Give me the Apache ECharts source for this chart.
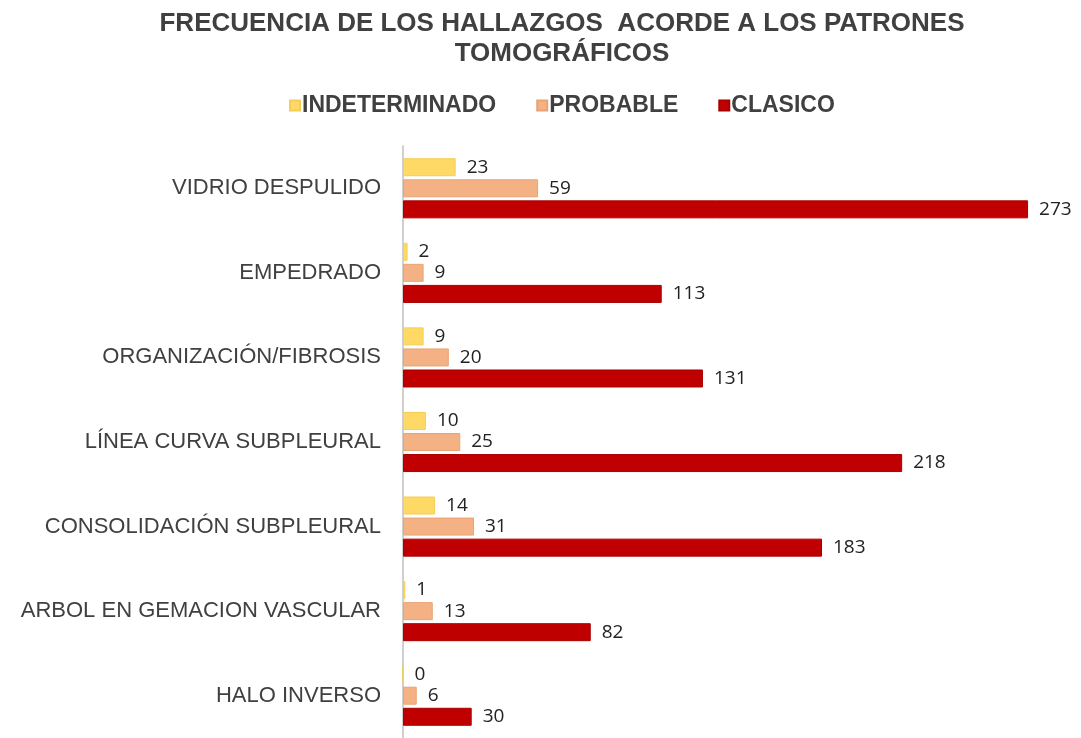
<!DOCTYPE html>
<html>
<head>
<meta charset="utf-8">
<script src="https://cdn.jsdelivr.net/npm/echarts@6/dist/echarts.min.js"></script>
<style>
  html, body { margin: 0; padding: 0; background: #fff; }
  #chart { width: 1081px; height: 738px; }
</style>
</head>
<body>
<div id="chart"></div>
<script>
// categorias de arriba hacia abajo
var categorias = ['VIDRIO DESPULIDO', 'EMPEDRADO', 'ORGANIZACIÓN/FIBROSIS', 'LÍNEA CURVA SUBPLEURAL',
  'CONSOLIDACIÓN SUBPLEURAL', 'ARBOL EN GEMACION VASCULAR', 'HALO INVERSO'];
var indeterminado = [23, 2, 9, 10, 14, 1, 0];
var probable = [59, 9, 20, 25, 31, 13, 6];
var clasico = [273, 113, 131, 218, 183, 82, 30];

var chart = echarts.init(document.getElementById('chart'));

var etiqueta = {
  show: true,
  position: 'right',
  distance: 11,
  fontFamily: 'Open Sans',
  fontSize: 19,
  color: '#222'
};

var option = {
  backgroundColor: '#fff',
  animation: false,
  title: {
    text: 'FRECUENCIA DE LOS HALLAZGOS  ACORDE A LOS PATRONES\nTOMOGRÁFICOS',
    left: 557,
    top: 4,
    textAlign: 'center',
    textStyle: {
      fontFamily: 'Liberation Sans',
      fontWeight: 'bold',
      fontSize: 26,
      lineHeight: 30,
      color: '#404040'
    }
  },
  legend: {
    data: ['INDETERMINADO', 'PROBABLE', 'CLASICO'],
    left: 284,
    top: 89,
    icon: 'rect',
    itemWidth: 10,
    itemHeight: 10,
    itemGap: 40,
    textStyle: {
      fontFamily: 'Liberation Sans',
      fontWeight: 'bold',
      fontSize: 23,
      color: '#404040',
      padding: [0, 0, 0, -3]
    }
  },
  grid: {
    left: 403,
    right: 14,
    top: 146,
    height: 597
  },
  xAxis: {
    type: 'value',
    min: 0,
    max: 290,
    show: false
  },
  yAxis: {
    type: 'category',
    inverse: true,
    data: categorias,
    axisLine: { show: true, lineStyle: { color: '#d0d0d0', width: 2 } },
    axisTick: { show: false },
    axisLabel: {
      margin: 22,
      fontFamily: 'Liberation Sans',
      fontSize: 22,
      color: '#404040'
    }
  },
  series: [
    {
      name: 'INDETERMINADO',
      type: 'bar',
      data: indeterminado,
      barWidth: 18,
      barGap: '17%',
      itemStyle: { color: '#FFD966', borderColor: '#f5cd55', borderWidth: 1 },
      label: etiqueta
    },
    {
      name: 'PROBABLE',
      type: 'bar',
      data: probable,
      barWidth: 18,
      barGap: '17%',
      itemStyle: { color: '#F4B183', borderColor: '#e8a474', borderWidth: 1 },
      label: etiqueta
    },
    {
      name: 'CLASICO',
      type: 'bar',
      data: clasico,
      barWidth: 18,
      barGap: '17%',
      itemStyle: { color: '#C00000', borderColor: '#a80000', borderWidth: 1 },
      label: etiqueta
    }
  ]
};

chart.setOption(option);
</script>
</body>
</html>
